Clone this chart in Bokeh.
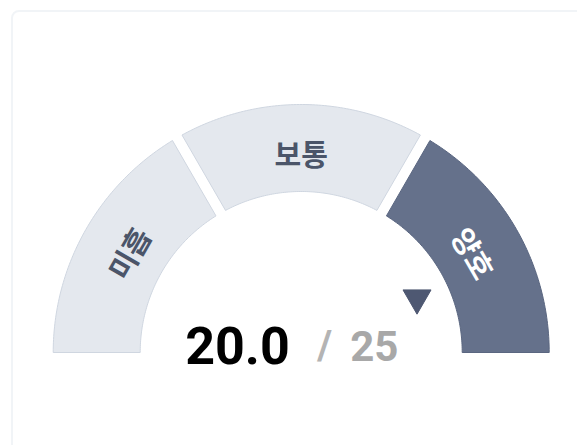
import numpy as np
from bokeh.plotting import figure
from bokeh.models import BoxAnnotation, ColumnDataSource
from bokeh.core.properties import value
from bokeh.embed import file_html
from bokeh.resources import INLINE

# ---- data ----
SEG_LABELS = ["미흡", "보통", "양호"]
SEG_VALUES = [1, 1, 1]
SEG_FILLS = ["#e4e8ee", "#e4e8ee", "#65718b"]
SEG_LINES = ["#cfd6e0", "#cfd6e0", "#5a6680"]
SEG_TEXT = ["#4b5569", "#4b5569", "#ffffff"]
SCORE = 20.0
SCORE_MAX = 25
POINTER_AT = 21.5   # pointer position on the 0..SCORE_MAX scale

W, H = 577, 445
CX, CY = 300.7, 93.0      # gauge centre (pixel units)
R_OUT, R_IN = 248.0, 161.0
HALF_GAP = 5.5

p = figure(width=W, height=H, x_range=(0, W), y_range=(0, H),
           output_backend="svg", toolbar_location=None,
           x_axis_location=None, y_axis_location=None, min_border=0)
p.grid.visible = False
p.outline_line_color = None
p.background_fill_color = "white"
p.border_fill_color = "white"

# card
p.add_layout(BoxAnnotation(left=11.5, right=W + 40, top=H - 10.5, bottom=-40,
                           fill_color="white", fill_alpha=1.0,
                           line_color="#d2d9e3", line_width=2,
                           border_radius=7, level="underlay"))

total = float(sum(SEG_VALUES))
cum = np.concatenate([[0.0], np.cumsum(SEG_VALUES)])
xs, ys, lx, ly, la = [], [], [], [], []
n = len(SEG_VALUES)
for i in range(n):
    a0 = np.pi - cum[i] / total * np.pi
    a1 = np.pi - cum[i + 1] / total * np.pi
    do = np.arcsin(HALF_GAP / R_OUT)
    di = np.arcsin(HALF_GAP / R_IN)
    s_o = a0 - (do if i > 0 else 0)
    e_o = a1 + (do if i < n - 1 else 0)
    s_i = a0 - (di if i > 0 else 0)
    e_i = a1 + (di if i < n - 1 else 0)
    t_o = np.linspace(s_o, e_o, 80)
    t_i = np.linspace(e_i, s_i, 80)
    px = np.concatenate([CX + R_OUT * np.cos(t_o), CX + R_IN * np.cos(t_i)])
    py = np.concatenate([CY + R_OUT * np.sin(t_o), CY + R_IN * np.sin(t_i)])
    xs.append(list(px))
    ys.append(list(py))
    mid = (a0 + a1) / 2
    rl = 200.0
    lx.append(CX + rl * np.cos(mid))
    ly.append(CY + rl * np.sin(mid))
    la.append(mid - np.pi / 2)

src = ColumnDataSource(dict(xs=xs, ys=ys, fill=SEG_FILLS, line=SEG_LINES))
p.patches("xs", "ys", source=src, fill_color="fill", line_color="line", line_width=1)

lsrc = ColumnDataSource(dict(x=lx, y=ly, t=SEG_LABELS, a=la, c=SEG_TEXT))
p.text("x", "y", text="t", angle="a", text_color="c", source=lsrc,
       text_font=value("Noto Sans CJK KR"), text_font_style="bold",
       text_font_size="29px", text_align="center", text_baseline="middle")

# pointer
pa = np.pi - POINTER_AT / SCORE_MAX * np.pi
pr = 128.0
p.scatter([CX + pr * np.cos(pa)], [CY + pr * np.sin(pa)], marker="inverted_triangle",
          size=28, fill_color="#4e5872", line_color="#4e5872")

# score text
TY = CY + 7
p.text([CX - 116], [TY], text=[f"{SCORE:.1f}"], text_color="#000000",
       text_font=value("Roboto"), text_font_style="bold", text_font_size="52px",
       text_align="left", text_baseline="alphabetic")
p.text([CX + 16], [TY], text=["/"], text_color="#b4b4b4",
       text_font=value("Roboto"), text_font_style="bold", text_font_size="40px",
       text_align="left", text_baseline="alphabetic")
p.text([CX + 49], [TY], text=[str(SCORE_MAX)], text_color="#a8a8a8",
       text_font=value("Roboto"), text_font_style="bold", text_font_size="42px",
       text_align="left", text_baseline="alphabetic")

open("out.html", "w").write(file_html(p, INLINE))
